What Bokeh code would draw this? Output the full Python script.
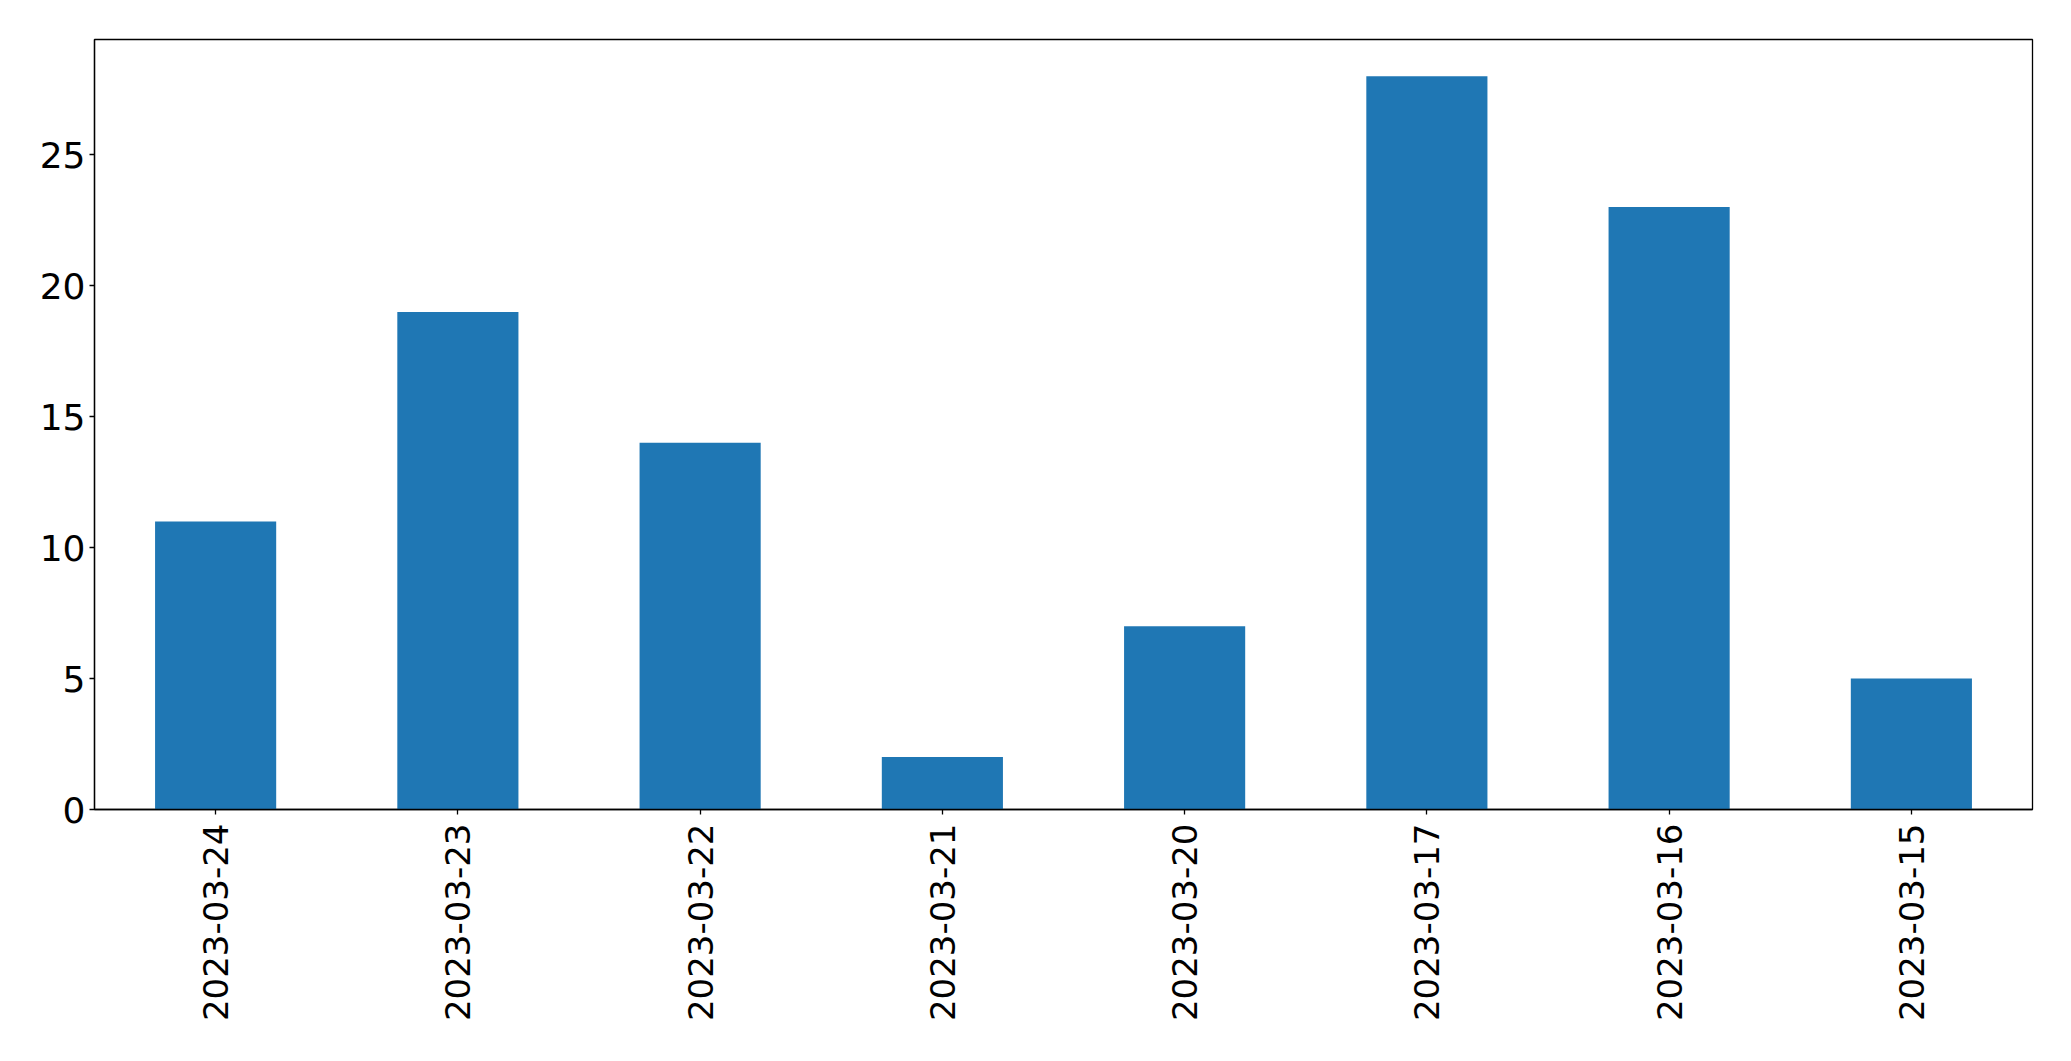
import math
from bokeh.plotting import figure
from bokeh.models import Range1d, FactorRange, FixedTicker, ColumnDataSource
from bokeh.embed import file_html
from bokeh.resources import INLINE

dates = ["2023-03-24", "2023-03-23", "2023-03-22", "2023-03-21",
         "2023-03-20", "2023-03-17", "2023-03-16", "2023-03-15"]
counts = [11, 19, 14, 2, 7, 28, 23, 5]
y_ticks = [0, 5, 10, 15, 20, 25]

src = ColumnDataSource(dict(date=dates, count=counts))

p = figure(
    width=2063, height=1053,
    x_range=FactorRange(*dates),
    y_range=Range1d(0, max(counts) * 1.05),
    output_backend="svg", toolbar_location=None,
    min_border_left=94, min_border_top=39, min_border_right=31, min_border_bottom=244,
)
p.vbar(x="date", top="count", width=0.5, source=src, color="#1f77b4", line_color=None)

p.xgrid.visible = False
p.ygrid.visible = False
p.outline_line_color = "black"
p.outline_line_width = 1.3
p.background_fill_color = "white"
p.border_fill_color = "white"

for ax in (p.xaxis[0], p.yaxis[0]):
    ax.axis_line_color = "black"
    ax.axis_line_width = 1.3
    ax.major_tick_line_color = "black"
    ax.major_tick_line_width = 1.3
    ax.major_tick_out = 5
    ax.major_tick_in = 0
    ax.minor_tick_line_color = None
    ax.major_label_text_font = "DejaVu Sans"
    ax.major_label_text_color = "black"

p.yaxis[0].major_label_text_font_size = "36px"
p.xaxis[0].major_label_text_font_size = "34px"
p.yaxis[0].ticker = FixedTicker(ticks=y_ticks)
p.yaxis[0].major_label_standoff = 4
p.xaxis[0].major_label_orientation = math.pi / 2
p.xaxis[0].major_label_standoff = 9
p.xaxis[0].group_text_font_size = "0px"

open("out.html", "w").write(file_html(p, INLINE))
